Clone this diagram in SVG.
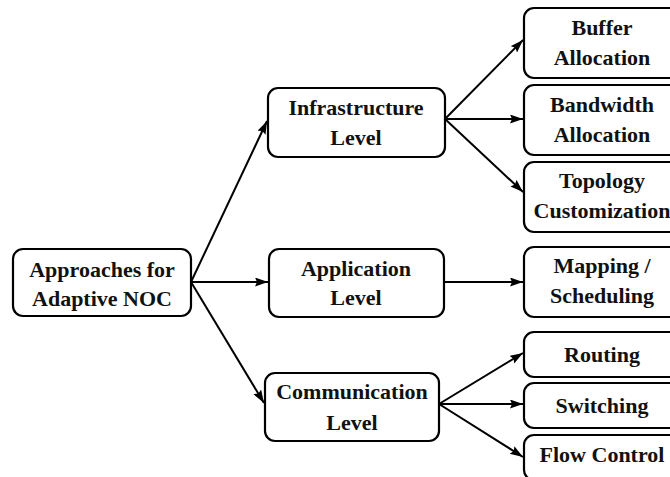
<svg xmlns="http://www.w3.org/2000/svg" width="670" height="477" viewBox="0 0 670 477">
  <defs>
    <marker id="arrow" markerUnits="userSpaceOnUse" markerWidth="14" markerHeight="10" refX="13" refY="4.5" orient="auto">
      <path d="M0,0 L13,4.5 L0,9 L2,4.5 z" fill="#000"/>
    </marker>
    <style>
      .box { fill: #fff; stroke: #000; stroke-width: 2.2; }
      .lbl { font-family: "Liberation Serif", "Times New Roman", serif; font-weight: bold; font-size: 22px; fill: #111; text-anchor: middle; }
      .edge { stroke: #000; stroke-width: 2; fill: none; marker-end: url(#arrow); }
    </style>
  </defs>
  <rect width="670" height="477" fill="#fff"/>

  <g id="connectors">
    <line class="edge" x1="191" y1="282" x2="267" y2="121"/>
    <line class="edge" x1="191" y1="282" x2="268" y2="282"/>
    <line class="edge" x1="191" y1="282" x2="264" y2="403"/>
    <line class="edge" x1="445" y1="119" x2="523" y2="40"/>
    <line class="edge" x1="445" y1="119" x2="523" y2="119"/>
    <line class="edge" x1="445" y1="119" x2="523" y2="192"/>
    <line class="edge" x1="444" y1="282" x2="523" y2="282"/>
    <line class="edge" x1="439" y1="404" x2="523" y2="353"/>
    <line class="edge" x1="439" y1="404" x2="523" y2="404"/>
    <line class="edge" x1="439" y1="404" x2="523" y2="457"/>
  </g>

  <g id="root">
    <rect class="box" x="13" y="249" width="178" height="67" rx="10"/>
    <text class="lbl" x="102" y="277">Approaches for</text>
    <text class="lbl" x="102" y="306">Adaptive NOC</text>
  </g>

  <g id="infrastructure">
    <rect class="box" x="268" y="88" width="177" height="69" rx="10"/>
    <text class="lbl" x="356" y="115">Infrastructure</text>
    <text class="lbl" x="356" y="145">Level</text>
  </g>

  <g id="application">
    <rect class="box" x="269" y="249" width="175" height="68" rx="10"/>
    <text class="lbl" x="356" y="276">Application</text>
    <text class="lbl" x="356" y="305">Level</text>
  </g>

  <g id="communication">
    <rect class="box" x="265" y="373" width="174" height="68" rx="10"/>
    <text class="lbl" x="352" y="399">Communication</text>
    <text class="lbl" x="352" y="430">Level</text>
  </g>

  <g id="buffer">
    <rect class="box" x="524" y="8" width="160" height="70" rx="10"/>
    <text class="lbl" x="602" y="35">Buffer</text>
    <text class="lbl" x="602" y="65">Allocation</text>
  </g>

  <g id="bandwidth">
    <rect class="box" x="524" y="85" width="160" height="70" rx="10"/>
    <text class="lbl" x="602" y="112">Bandwidth</text>
    <text class="lbl" x="602" y="142">Allocation</text>
  </g>

  <g id="topology">
    <rect class="box" x="524" y="162" width="160" height="70" rx="10"/>
    <text class="lbl" x="602" y="188">Topology</text>
    <text class="lbl" x="602" y="218">Customization</text>
  </g>

  <g id="mapping">
    <rect class="box" x="524" y="247" width="160" height="70" rx="10"/>
    <text class="lbl" x="602" y="273">Mapping /</text>
    <text class="lbl" x="602" y="303">Scheduling</text>
  </g>

  <g id="routing">
    <rect class="box" x="524" y="332" width="160" height="45" rx="10"/>
    <text class="lbl" x="602" y="362">Routing</text>
  </g>

  <g id="switching">
    <rect class="box" x="524" y="383" width="160" height="45" rx="10"/>
    <text class="lbl" x="602" y="413">Switching</text>
  </g>

  <g id="flow-control">
    <rect class="box" x="524" y="435" width="160" height="45" rx="10"/>
    <text class="lbl" x="602" y="462">Flow Control</text>
  </g>
</svg>
